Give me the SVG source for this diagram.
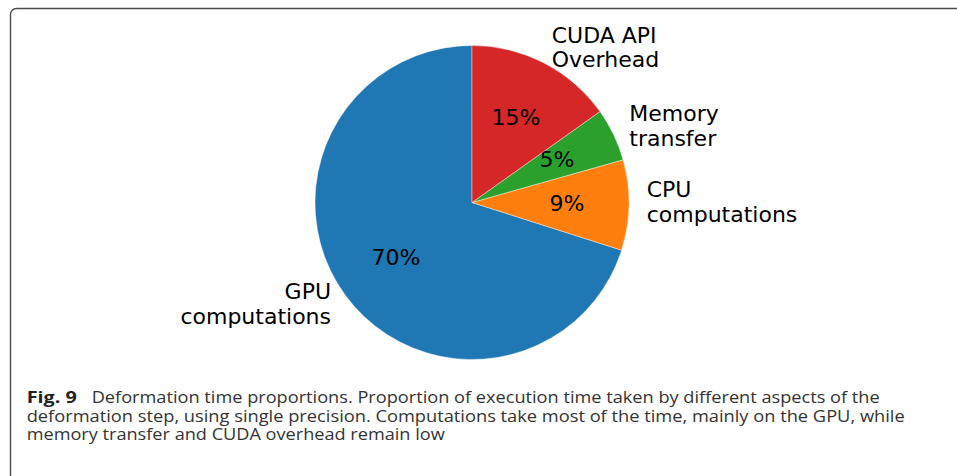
<svg xmlns="http://www.w3.org/2000/svg" width="957" height="476" viewBox="0 0 957 476">
  <style>
    .frame { fill: none; stroke: #4a4a4a; stroke-width: 1.4; }
    .wedge { stroke: #ffffff; stroke-width: 0.4; stroke-linejoin: round; }
    .lbl { font-family: "DejaVu Sans", sans-serif; font-size: 22px; fill: #000000; }
    .cap { font-family: "Open Sans", "Noto Sans", sans-serif; font-size: 16px; fill: #333333; }
    .capb { font-family: "Open Sans", "Noto Sans", sans-serif; font-size: 16px; font-weight: bold; fill: #222222; }
  </style>
  <rect width="957" height="476" fill="#ffffff"/>
  <!-- figure frame -->
  <path class="frame" d="M10.5,476 L10.5,15 Q10.5,8.5 17,8.5 L957,8.5"/>

  <!-- pie chart, centre (472, 202.5), r = 157 -->
  <g id="gpu">
    <path class="wedge" fill="#1f77b4" d="M472,202.5 L472,45.5 A157,157 0 1,0 621.6,250.2 Z"/>
    <text class="lbl" x="396" y="265" text-anchor="middle">70%</text>
    <text class="lbl" x="331" y="299" text-anchor="end">GPU</text>
    <text class="lbl" x="331" y="324" text-anchor="end">computations</text>
  </g>
  <g id="cpu">
    <path class="wedge" fill="#ff7f0e" d="M472,202.5 L621.6,250.2 A157,157 0 0,0 623.1,159.8 Z"/>
    <text class="lbl" x="567" y="210.7" text-anchor="middle">9%</text>
    <text class="lbl" x="646.7" y="197.3">CPU</text>
    <text class="lbl" x="646.7" y="222.3">computations</text>
  </g>
  <g id="memory">
    <path class="wedge" fill="#2ca02c" d="M472,202.5 L623.1,159.8 A157,157 0 0,0 600,111.5 Z"/>
    <text class="lbl" x="557" y="166.7" text-anchor="middle">5%</text>
    <text class="lbl" x="629.3" y="120.7">Memory</text>
    <text class="lbl" x="629.3" y="145.7">transfer</text>
  </g>
  <g id="cuda">
    <path class="wedge" fill="#d62728" d="M472,202.5 L600,111.5 A157,157 0 0,0 472,45.5 Z"/>
    <text class="lbl" x="516" y="125" text-anchor="middle">15%</text>
    <text class="lbl" x="551.7" y="42.7">CUDA API</text>
    <text class="lbl" x="551.7" y="66.7">Overhead</text>
  </g>
  <g id="connectors"/>

  <!-- caption -->
  <text class="capb" x="26.7" y="403.3" textLength="50" lengthAdjust="spacingAndGlyphs">Fig. 9</text>
  <text class="cap" x="91.7" y="403.3" textLength="788" lengthAdjust="spacingAndGlyphs">Deformation time proportions. Proportion of execution time taken by different aspects of the</text>
  <text class="cap" x="26.7" y="421.7" textLength="878" lengthAdjust="spacingAndGlyphs">deformation step, using single precision. Computations take most of the time, mainly on the GPU, while</text>
  <text class="cap" x="26.7" y="440" textLength="418" lengthAdjust="spacingAndGlyphs">memory transfer and CUDA overhead remain low</text>
</svg>
